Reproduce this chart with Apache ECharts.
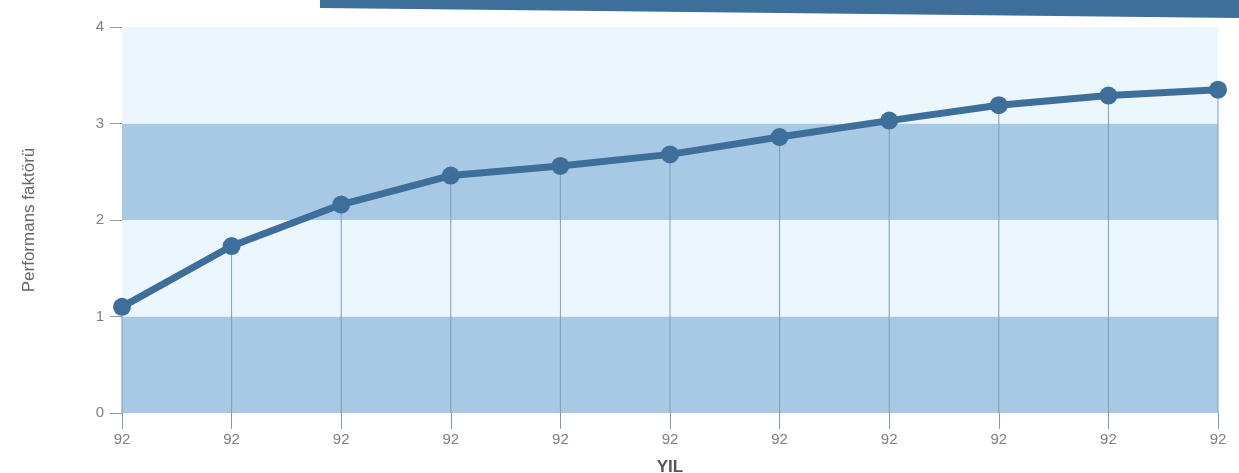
<!DOCTYPE html>
<html><head><meta charset="utf-8">
<script src="https://cdn.jsdelivr.net/npm/echarts@6/dist/echarts.min.js"></script>
<style>html,body{margin:0;padding:0;background:#fff}#c{width:1239px;height:473px}</style>
</head><body><div id="c"></div>
<script>
const categories = ['92','92','92','92','92','92','92','92','92','92','92'];
const values = [1.10, 1.73, 2.16, 2.46, 2.56, 2.68, 2.86, 3.03, 3.19, 3.29, 3.35];
const yTicks = [0, 1, 2, 3, 4];

const chart = echarts.init(document.getElementById('c'));
chart.setOption({
  animation: false,
  graphic: [{type:'polygon', shape:{points:[[320,0],[1239,0],[1239,18],[320,8]]}, style:{fill:'#3e6f9b'}, z:-1}],
  grid: {left:122, right:21, top:27, bottom:60, outerBoundsMode:'none', containLabel:false},
  xAxis: {
    type:'category', data:categories, boundaryGap:false,
    name:'YIL', nameLocation:'middle', nameGap:46,
    nameTextStyle:{fontFamily:'Liberation Sans', fontSize:17, color:'#555', fontWeight:'bold'},
    axisLine:{show:false},
    axisTick:{show:true, inside:false, length:16, alignWithLabel:true, lineStyle:{color:'#7f9bb6', width:1}},
    axisLabel:{fontFamily:'Liberation Sans', fontSize:15, color:'#808080', margin:19},
    splitLine:{show:false}
  },
  yAxis: {
    type:'value', min:0, max:4, interval:1,
    name:'Performans faktörü', nameLocation:'middle', nameGap:84, nameRotate:90,
    nameTextStyle:{fontFamily:'Liberation Sans', fontSize:17, color:'#666'},
    axisLine:{show:false},
    axisTick:{show:true, length:12, lineStyle:{color:'#999'}},
    axisLabel:{fontFamily:'Liberation Sans', fontSize:15, color:'#808080', margin:18,
      formatter: v => yTicks.includes(v) ? String(v) : ''},
    splitLine:{show:false},
    splitArea:{show:true, areaStyle:{color:['#a8c9e6','#ebf7fc']}}
  },
  series: [
    {type:'bar', data:values, barWidth:1, itemStyle:{color:'#7f9bb6'}, silent:true, z:1},
    {type:'line', data:values, symbol:'circle', symbolSize:18,
     lineStyle:{color:'#3e6f9b', width:7}, itemStyle:{color:'#3e6f9b'}, z:3}
  ]
});
</script></body></html>
